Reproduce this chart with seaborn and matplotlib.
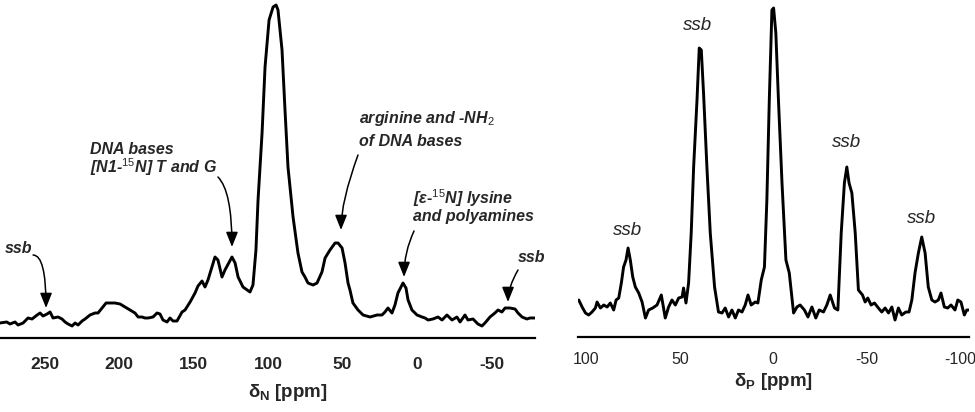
import matplotlib
matplotlib.use("Agg")
import matplotlib.pyplot as plt
import seaborn as sns
import pandas as pd
from matplotlib.ticker import FixedLocator

# %% 15N spectrum (ppm, intensity in arbitrary units)
n_ppm = [280.0, 275.4, 273.2, 269.8, 267.8, 264.4, 261.1, 258.4, 255.0, 253.0,
         251.0, 248.3, 246.3, 244.3, 240.9, 238.3, 236.2, 234.2, 231.5, 229.5,
         227.5, 224.8, 222.8, 219.5, 216.1, 214.1, 211.4, 208.7, 206.0, 202.7,
         199.3, 196.0, 192.6, 189.3, 187.2, 184.6, 182.6, 180.5, 177.2, 174.5,
         172.5, 170.5, 167.8, 165.8, 163.8, 161.1, 157.7, 155.7, 152.3, 149.0,
         147.0, 144.3, 142.3, 140.3, 137.6, 135.6, 133.6, 130.9, 128.9, 124.2,
         122.1, 120.1, 116.8, 112.1, 110.1, 108.1, 106.7, 104.0, 102.0, 99.3,
         96.6, 94.6, 93.3, 90.6, 88.6, 86.6, 83.2, 79.9, 77.2, 75.2,
         73.2, 69.8, 67.1, 63.8, 61.7, 58.4, 55.0, 53.0, 50.3, 48.3,
         46.3, 45.0, 43.0, 39.6, 36.2, 31.5, 26.8, 23.5, 21.5, 19.5,
         16.8, 14.8, 12.8, 9.4, 7.4, 6.0, 3.4, 0.0, -3.4, -5.4,
         -7.4, -10.7, -14.1, -16.8, -20.1, -23.5, -26.8, -28.9, -32.2, -34.2,
         -37.6, -40.9, -43.6, -45.6, -49.0, -52.3, -54.4, -57.0, -59.1, -62.4,
         -65.8, -67.8, -70.5, -73.8, -75.8, -79.2]
n_int = [15, 16, 14, 16, 13, 15, 20, 19, 23, 25,
         22, 24, 26, 20, 21, 19, 16, 14, 12, 15,
         13, 17, 19, 23, 25, 25, 30, 35, 35, 35,
         34, 31, 28, 25, 21, 21, 20, 20, 21, 25,
         24, 18, 16, 20, 17, 17, 26, 28, 36, 45,
         52, 57, 51, 58, 71, 81, 78, 61, 68, 81,
         75, 61, 51, 46, 53, 88, 138, 205, 271, 318,
         331, 333, 328, 288, 228, 171, 121, 85, 66, 61,
         55, 53, 55, 66, 80, 88, 95, 95, 90, 75,
         55, 48, 35, 28, 23, 21, 23, 23, 26, 30,
         25, 33, 45, 55, 50, 38, 28, 23, 21, 20,
         18, 19, 21, 18, 23, 18, 21, 16, 23, 18,
         19, 14, 12, 15, 21, 25, 28, 26, 30, 30,
         29, 25, 21, 19, 20, 20]

# %% 31P spectrum
p_ppm = [104.1, 102.3, 100.5, 98.8, 97.0, 95.2, 94.3, 92.5, 90.7, 88.9,
         87.2, 85.4, 84.1, 82.7, 81.3, 80.1, 78.8, 77.7, 76.5, 75.2,
         73.8, 72.0, 70.2, 68.4, 66.7, 64.5, 62.2, 59.9, 57.8, 56.0,
         54.2, 52.4, 50.6, 48.8, 48.0, 46.7, 45.3, 43.9, 42.6, 40.8,
         39.6, 38.5, 37.3, 35.5, 33.7, 31.4, 29.3, 27.4, 25.7, 23.9,
         22.1, 20.3, 18.6, 16.7, 15.0, 13.5, 11.8, 9.6, 8.2, 6.4,
         4.7, 3.4, 2.1, 0.7, -0.2, -1.4, -2.8, -4.7, -6.8, -8.6,
         -10.9, -12.7, -14.4, -16.7, -18.6, -20.7, -22.8, -24.6, -26.9, -28.7,
         -30.5, -32.8, -34.6, -36.4, -38.1, -39.4, -40.6, -42.1, -43.9, -45.6,
         -47.8, -49.2, -50.6, -52.4, -54.2, -56.3, -58.1, -59.9, -61.7, -63.5,
         -65.2, -67.0, -68.8, -71.0, -72.7, -74.2, -75.9, -77.7, -79.5, -81.3,
         -83.0, -84.9, -86.6, -88.4, -89.8, -91.6, -93.4, -95.2, -97.3, -98.8,
         -100.5, -102.3, -103.6, -104.8]
p_int = [37, 30, 24, 22, 25, 29, 35, 29, 32, 30,
         34, 27, 37, 39, 54, 70, 77, 89, 77, 60,
         50, 44, 35, 19, 27, 29, 32, 42, 19, 30,
         37, 32, 39, 40, 49, 34, 54, 104, 170, 237,
         289, 287, 244, 170, 104, 50, 25, 24, 29, 20,
         27, 19, 27, 25, 32, 42, 32, 35, 34, 57,
         70, 137, 237, 327, 329, 304, 237, 154, 77, 64,
         24, 30, 32, 27, 20, 30, 19, 27, 25, 32,
         42, 29, 27, 104, 154, 170, 154, 144, 104, 47,
         42, 35, 39, 32, 34, 29, 25, 29, 24, 30,
         17, 29, 22, 25, 25, 37, 64, 84, 100, 84,
         50, 37, 35, 37, 44, 30, 29, 32, 27, 37,
         35, 22, 27, 27]

n_major = [250, 200, 150, 100, 50, 0, -50]
n_minor = [275, 225, 175, 125, 75, 25, -25, -75]
p_major = [100, 50, 0, -50, -100]
p_minor = [75, 25, -25, -75]

n_df = pd.DataFrame({"ppm": n_ppm, "intensity": n_int})
p_df = pd.DataFrame({"ppm": p_ppm, "intensity": p_int})

# %% style
sns.set_style("white")
plt.rcParams["font.family"] = ["Liberation Sans", "DejaVu Sans"]
plt.rcParams["mathtext.fontset"] = "custom"
plt.rcParams["mathtext.rm"] = "Liberation Sans"
plt.rcParams["mathtext.it"] = "Liberation Sans:italic:bold"
plt.rcParams["mathtext.bf"] = "Liberation Sans:bold"
plt.rcParams["axes.unicode_minus"] = False

fig = plt.figure(figsize=(9.75, 4.12), dpi=100)
ax_n = fig.add_axes([0.0, 74 / 412, 535 / 975, 338 / 412])
ax_p = fig.add_axes([578 / 975, 75 / 412, 391 / 975, 337 / 412])

sns.lineplot(data=n_df, x="ppm", y="intensity", ax=ax_n, color="black",
             lw=2.1, sort=False, estimator=None)
sns.lineplot(data=p_df, x="ppm", y="intensity", ax=ax_p, color="black",
             lw=2.1, sort=False, estimator=None)

for ax in (ax_n, ax_p):
    for side in ("top", "left", "right"):
        ax.spines[side].set_visible(False)
    ax.spines["bottom"].set_linewidth(1.6)
    ax.spines["bottom"].set_color("black")
    ax.set_yticks([])
    ax.set_ylabel("")
    ax.set_facecolor("none")

ax_n.set_xlim(279.9, -79.2)
ax_n.set_ylim(0, 338)
ax_n.set_xticks(n_major)
ax_n.xaxis.set_minor_locator(FixedLocator(n_minor))
ax_n.tick_params(axis="x", which="major", length=0, pad=14, labelsize=12.5)
ax_n.tick_params(axis="x", which="minor", length=4.5, width=1.2, color="black",
                 direction="out")
for lbl in ax_n.get_xticklabels():
    lbl.set_fontweight("bold")

ax_p.set_xlim(104.5, -104.8)
ax_p.set_ylim(0, 337)
ax_p.set_xticks(p_major)
ax_p.xaxis.set_minor_locator(FixedLocator(p_minor))
ax_p.tick_params(axis="x", which="both", length=4.5, width=1.2, color="black",
                 direction="out", pad=6.5, labelsize=11.5)

ax_n.set_xlabel(r"δ$_\mathbf{N}$ [ppm]", fontsize=13.5, fontweight="bold")
ax_n.xaxis.label.set_va("center")
ax_n.xaxis.set_label_coords(0.538, -0.160)
ax_p.set_xlabel(r"δ$_\mathbf{P}$ [ppm]", fontsize=13.5, fontweight="bold")
ax_p.xaxis.label.set_va("center")
ax_p.xaxis.set_label_coords(0.499, -0.131)

# %% annotations
ann = dict(style="italic", fontweight="bold", fontsize=11.5, va="baseline", ha="left")
ax_n.text(276.5, 85, "ssb", **ann)
ax_n.text(219.5, 184, "DNA bases", **ann)
ax_n.text(219.5, 165, r"[N1-$^{\mathit{15}}$N] T and G", **ann)
ax_n.text(38.9, 215, r"arginine and -NH$_{\mathit{2}}$", **ann)
ax_n.text(38.9, 192, "of DNA bases", **ann)
ax_n.text(2.7, 134, r"[ε-$^{\mathit{15}}$N] lysine", **ann)
ax_n.text(2.7, 117, "and polyamines", **ann)
ax_n.text(-67.8, 76, "ssb", **ann)

arrows = [
    ((249.0, 30), (257.7, 83), 0),
    ((124.2, 91), (133.6, 161), -45),
    ((51.0, 108), (39.6, 183), -110),
    ((8.7, 61), (2.0, 107), -115),
    ((-61.1, 36), (-67.8, 68), -120),
]
for tip, start, angle in arrows:
    ax_n.annotate("", xy=tip, xytext=start,
                  arrowprops=dict(arrowstyle="-|>,head_length=0.45,head_width=0.18",
                                  connectionstyle=f"angle3,angleA={angle},angleB=90",
                                  mutation_scale=20, lw=1.1, color="black",
                                  shrinkA=0, shrinkB=0))

ssb_p = [(78.1, 102), (40.6, 307), (-39.0, 190), (-79.4, 114)]
for x, y in ssb_p:
    ax_p.text(x, y, "ssb", style="italic", fontsize=13.5, ha="center", va="baseline")

fig.savefig("out.png", dpi=100)
